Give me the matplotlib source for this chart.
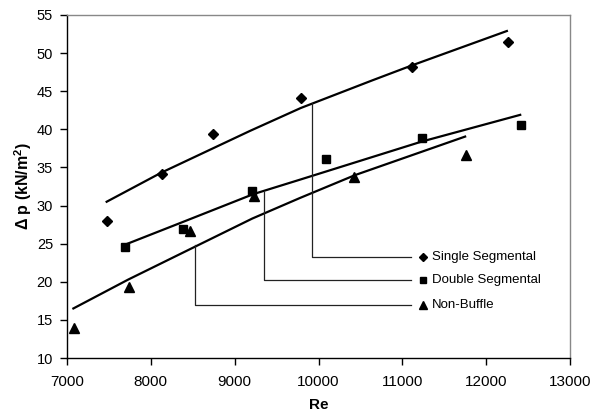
import matplotlib
matplotlib.use("Agg")
import matplotlib.pyplot as plt

plt.rcParams['font.family'] = ['Liberation Sans', 'DejaVu Sans']
plt.rcParams['mathtext.fontset'] = 'custom'
plt.rcParams['mathtext.rm'] = 'Liberation Sans'
plt.rcParams['mathtext.bf'] = 'Liberation Sans:bold'

# measured points
re_single = [7480, 8130, 8740, 9790, 11120, 12260]
dp_single = [28.0, 34.1, 39.4, 44.1, 48.2, 51.5]

re_double = [7690, 8380, 9210, 10085, 11233, 12418]
dp_double = [24.5, 26.9, 31.9, 36.1, 38.9, 40.6]

re_non = [7085, 7740, 8468, 9231, 10429, 11761]
dp_non = [14.0, 19.3, 26.7, 31.3, 33.8, 36.6]

# fitted curves
fit_re_single = [7473, 8122, 9184, 9789, 10636, 11117, 12247]
fit_dp_single = [30.5, 34.3, 39.8, 42.8, 46.4, 48.4, 52.9]

fit_re_double = [7700, 8348, 9223, 9780, 11233, 12406]
fit_dp_double = [24.9, 27.7, 31.5, 33.4, 38.4, 41.9]

fit_re_non = [7076, 7732, 8508, 9211, 9780, 10437, 11749]
fit_dp_non = [16.5, 20.3, 24.5, 28.3, 31.0, 34.0, 39.05]

# legend / leader lines
labels = ['Single Segmental', 'Double Segmental', 'Non-Buffle']
markers = ['D', 's', '^']
leader_re = [9918, 9355, 8527]
leader_top = [43.4, 31.8, 24.8]
leader_y = [23.2, 20.2, 17.0]
leader_end = 11100

fig = plt.figure(figsize=(5.92, 4.17), dpi=100)
ax = fig.add_axes([67 / 592, 1 - 358 / 417, (570 - 67) / 592, (358 - 15) / 417])

ax.plot(fit_re_single, fit_dp_single, color='black', lw=1.6)
ax.plot(fit_re_double, fit_dp_double, color='black', lw=1.6)
ax.plot(fit_re_non, fit_dp_non, color='black', lw=1.6)

ax.plot(re_single, dp_single, 'D', color='black', ms=5, ls='none')
ax.plot(re_double, dp_double, 's', color='black', ms=5.2, ls='none')
ax.plot(re_non, dp_non, '^', color='black', ms=6.5, ls='none')

for i in range(3):
    ax.plot([leader_re[i], leader_re[i], leader_end],
            [leader_top[i], leader_y[i], leader_y[i]],
            color='#222222', lw=0.9)
    ax.plot([11252], [leader_y[i]], markers[i], color='black',
            ms=[4.2, 4.5, 5.5][i], ls='none')
    ax.text(11350, leader_y[i], labels[i], fontsize=9.5, va='center', ha='left')

ax.set_xlim(7000, 13000)
ax.set_ylim(10, 55)
ax.set_xticks(range(7000, 13001, 1000))
ax.set_yticks(range(10, 56, 5))
ax.tick_params(direction='out', length=5, width=1, colors='black')
ax.tick_params(axis='x', labelsize=11, pad=7)
ax.tick_params(axis='y', labelsize=10.5, pad=5)

for side in ['top', 'right']:
    ax.spines[side].set_color('#888888')
    ax.spines[side].set_linewidth(1)
for side in ['left', 'bottom']:
    ax.spines[side].set_linewidth(1)

ax.set_xlabel('Re', fontsize=11, fontweight='bold', labelpad=7)
ax.set_ylabel('\u0394 p (kN/m$^\\mathbf{2}$)', fontsize=11.5, fontweight='bold', labelpad=2)

fig.savefig('out.png', dpi=100)
